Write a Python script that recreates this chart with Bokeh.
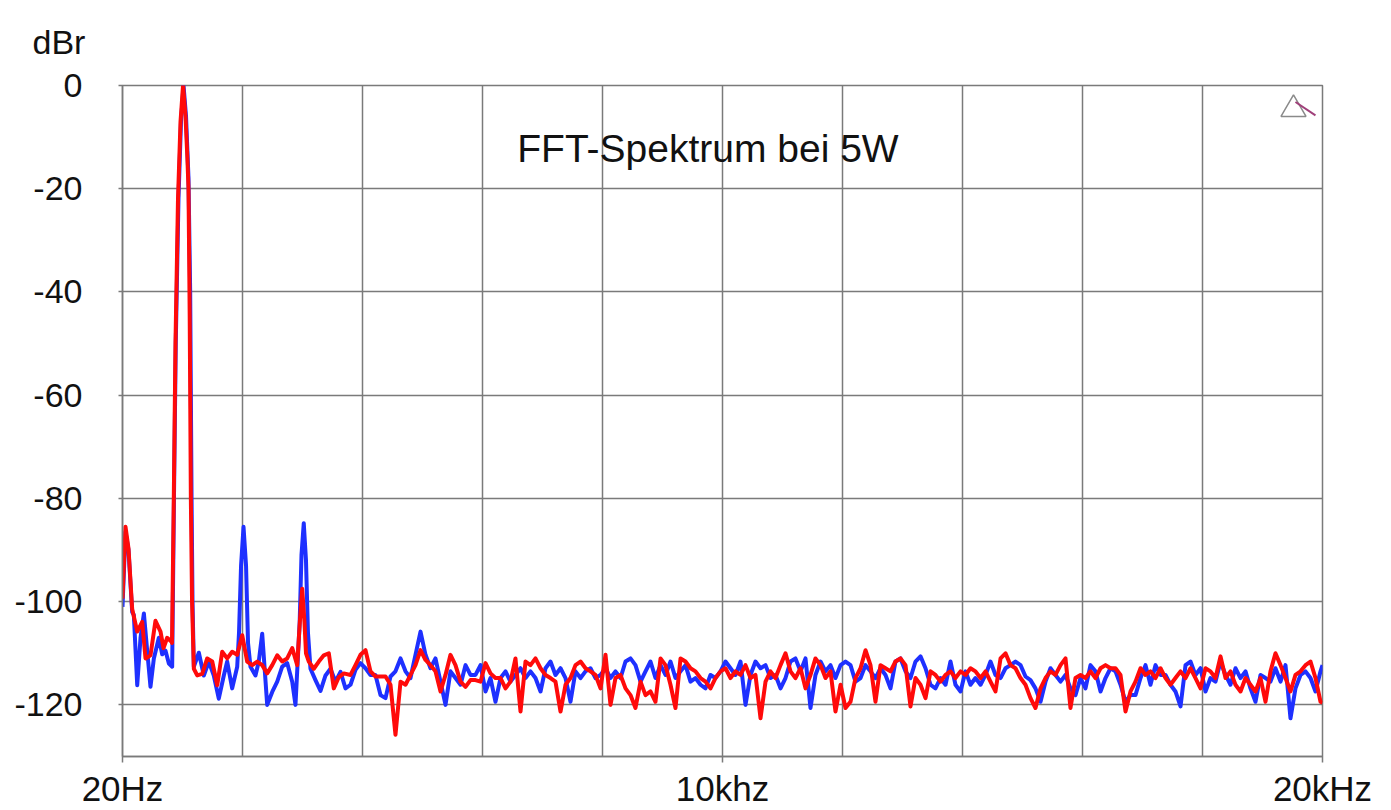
from bokeh.plotting import figure
from bokeh.models import FixedTicker, Label
from bokeh.embed import file_html
from bokeh.resources import INLINE

# ---------------- data (frequency in Hz, level in dBr) ----------------
FREQ_RED_LOW = [20, 70, 120, 181, 265, 348, 403, 486, 569, 653, 703, 764, 831, 844,
                874, 902, 944, 986, 1028, 1069, 1100, 1119, 1139, 1158, 1178, 1208,
                1264, 1347, 1430, 1514, 1597, 1680, 1763, 1846, 1930, 2013, 2096, 2180,
                2263, 2346, 2429, 2513, 2596, 2679, 2762, 2846, 2929, 2972, 3012, 3050,
                3075, 3122, 3205, 3289, 3372, 3455, 3538, 3622, 3705]
DB_RED_LOW = [-99.4, -85.5, -89.7, -101.4, -105.8, -103.9, -111.0, -110.4, -103.7, -105.8,
              -109.0, -107.0, -107.7, -108.0,
              -80.0, -50.0, -22.0, -7.0, 0.0, -6.0, -14.0, -20.0, -45.0, -80.0, -100.0, -113.0,
              -114.3, -114.0, -111.0, -111.6, -116.2, -109.7, -111.0, -109.7, -110.3, -106.5,
              -111.6, -112.3, -111.6, -112.3, -113.9, -112.3, -110.4, -111.6, -111.0, -109.0,
              -112.3, -104.0, -97.5, -104.0, -110.0, -111.6, -113.0, -111.6, -110.4, -110.0,
              -116.8, -114.6, -113.9]

FREQ_BLUE_LOW = [20, 70, 120, 181, 209, 265, 320, 376, 431, 486, 542, 625, 681, 736, 792,
                 847, 877, 907, 952, 994, 1036, 1078, 1119, 1147, 1170, 1186, 1208,
                 1291, 1374, 1457, 1540, 1623, 1707, 1763, 1846, 1930, 1960, 1994, 2035,
                 2077, 2110, 2151, 2234, 2289, 2346, 2429, 2513, 2596, 2679, 2762, 2846,
                 2900, 2970, 3000, 3038, 3075, 3108, 3150, 3233, 3317, 3400, 3483, 3566,
                 3650, 3733]
DB_BLUE_LOW = [-101.0, -86.5, -90.0, -102.0, -102.6, -116.2, -107.0, -102.3, -109.5, -116.5,
               -111.0, -107.0, -110.2, -109.5, -112.0,
               -112.6, -80.0, -50.0, -22.0, -7.0, 0.0, -6.0, -18.0, -40.0, -80.0, -100.0, -112.6,
               -109.9, -114.3, -111.6, -114.3, -118.8, -114.3, -111.6, -116.8, -112.6, -106.0,
               -93.0, -85.5, -93.0, -108.0, -112.6, -114.3, -111.6, -106.2, -120.0, -117.5,
               -115.5, -112.6, -111.9, -115.5, -120.0, -104.0, -91.0, -84.8, -92.0, -106.0,
               -113.0, -115.2, -117.3, -114.3, -113.0, -115.5, -113.6, -116.8]

FREQ_NOISE = [3816, 3899, 3982, 4066, 4149, 4232, 4316, 4399, 4482, 4565, 4649, 4732,
              4815, 4898, 4982, 5065, 5148, 5231, 5315, 5398, 5481, 5564, 5648, 5731,
              5814, 5897, 5981, 6064, 6147, 6230, 6314, 6397, 6480, 6563, 6647, 6730,
              6813, 6896, 6980, 7063, 7146, 7229, 7313, 7396, 7479, 7562, 7646, 7729,
              7812, 7895, 7979, 8062, 8145, 8228, 8312, 8395, 8478, 8561, 8645, 8728,
              8811, 8894, 8978, 9061, 9144, 9227, 9311, 9394, 9477, 9560, 9644, 9727,
              9810, 9893, 9977, 10060, 10143, 10226, 10310, 10393, 10476, 10559, 10643, 10726,
              10809, 10892, 10976, 11059, 11142, 11225, 11309, 11392, 11475, 11558, 11642, 11725,
              11808, 11891, 11975, 12058,
              12141, 12224, 12308, 12391, 12474, 12557, 12641, 12724, 12807, 12890, 12974, 13057,
              13140, 13223, 13307, 13390, 13473, 13556, 13640, 13723, 13806, 13889, 13973, 14056,
              14139, 14222, 14306, 14389, 14472, 14555, 14639, 14722, 14805, 14888, 14972, 15055,
              15138, 15221, 15305, 15388, 15471, 15554, 15638, 15721, 15804, 15887, 15971, 16054,
              16137, 16220, 16304, 16387, 16470, 16553, 16637, 16720, 16803, 16886, 16970, 17053,
              17136, 17219, 17303, 17386, 17469, 17552, 17636, 17719, 17802, 17885, 17969, 18052,
              18135, 18218, 18302, 18385, 18468, 18551, 18635, 18718, 18801, 18884, 18968, 19051,
              19134, 19217, 19301, 19384, 19467, 19550, 19634, 19717, 19800, 19883, 19967, 20000]

DB_RED_NOISE = [
    -114.2, -112.3, -110.3, -109.4, -113.5, -114.5, -114.5, -114.5, -116.1, -125.8,
    -115.5, -116.1, -114.2, -112.3, -109.4, -111.3, -112.3, -113.5, -117.4, -114.2,
    -110.3, -112.3, -115.5, -116.5, -115.2, -115.2, -115.5, -111.9, -113.9, -114.8,
    -114.8, -116.8, -115.5, -111.0, -121.3, -111.6, -112.3, -111.0, -112.9, -114.2,
    -114.8, -115.5, -121.3, -116.1, -114.8, -112.3, -111.6, -112.9, -113.5, -114.2,
    -116.8, -110.3, -120.0, -114.8, -114.2, -116.8, -118.1, -120.6, -115.5, -118.1,
    -117.4, -119.4, -111.0, -112.3, -116.1, -120.6, -111.0, -111.6, -112.9, -113.5,
    -114.8, -115.5, -116.8, -114.8, -113.5, -112.9, -114.8, -113.5, -114.2, -112.3,
    -114.8, -114.2, -122.6, -115.5, -113.5, -114.8, -112.3, -110.0, -113.5, -114.8,
    -112.9, -116.8, -114.2, -111.0, -112.3, -114.8, -113.5, -121.3, -116.1, -120.6,
    -119.4, -114.8, -112.9, -109.4, -112.3, -119.4, -112.3, -112.9, -113.5, -111.6,
    -111.0, -112.3, -120.3, -114.8, -116.1, -118.7, -113.5, -114.2, -115.5, -114.2,
    -113.5, -114.8, -113.5, -114.2, -112.9, -113.5, -114.8, -113.5, -115.5, -117.4,
    -111.0, -110.0, -112.3, -112.9, -114.8, -116.1, -118.7, -120.6, -116.8, -114.8,
    -113.5, -114.2, -112.3, -111.0, -120.6, -114.8, -114.2, -114.8, -113.5, -114.8,
    -112.9, -112.3, -112.9, -112.9, -114.2, -121.3, -117.4, -115.5, -112.9, -114.2,
    -113.5, -114.8, -112.9, -114.8, -116.1, -114.8, -113.5, -114.8, -112.9, -114.8,
    -116.8, -112.9, -113.5, -114.8, -110.6, -114.8, -113.5, -116.1, -117.4, -114.8,
    -116.1, -117.4, -114.8, -119.4, -113.5, -110.0, -112.3, -114.8, -117.4, -114.2,
    -113.5, -112.3, -111.6, -114.8, -119.4, -119.6]

DB_BLUE_NOISE = [
    -116.1, -113.2, -111.9, -112.9, -114.2, -114.2, -118.1, -118.7, -114.5, -113.5,
    -111.0, -113.5, -114.8, -110.3, -105.8, -110.3, -112.9, -111.0, -115.5, -120.0,
    -113.5, -114.8, -116.1, -112.3, -114.2, -114.2, -112.3, -117.4, -114.8, -119.4,
    -114.8, -113.5, -115.5, -114.2, -112.9, -114.8, -113.5, -114.8, -117.4, -112.9,
    -111.6, -114.2, -112.9, -114.8, -119.4, -113.5, -114.8, -113.5, -112.9, -114.8,
    -114.2, -112.9, -114.8, -113.5, -114.8, -111.6, -111.0, -112.3, -115.5, -113.5,
    -111.6, -114.8, -112.3, -114.2, -111.6, -114.8, -113.5, -112.3, -115.5, -114.8,
    -116.1, -116.8, -114.2, -114.8, -113.5, -111.6, -112.9, -114.2, -111.6, -120.0,
    -114.2, -111.6, -112.9, -112.3, -114.8, -114.2, -116.8, -114.8, -111.6, -111.0,
    -113.5, -111.0, -120.6, -114.2, -111.6, -113.5, -112.3, -114.8, -112.3, -111.6,
    -112.3, -115.5, -114.8, -112.3, -113.5, -114.8, -112.9, -114.2, -116.8, -111.6,
    -111.0, -113.5, -114.8, -111.6, -110.6, -112.9, -116.1, -116.8, -114.8, -116.1,
    -111.6, -116.1, -117.4, -113.5, -116.1, -114.8, -116.1, -114.2, -111.6, -114.2,
    -114.8, -112.9, -112.3, -111.6, -112.3, -114.5, -115.2, -116.8, -119.4, -115.5,
    -112.9, -114.2, -115.5, -114.2, -116.8, -118.1, -114.8, -116.8, -112.3, -113.5,
    -117.4, -114.8, -112.9, -113.5, -116.1, -119.4, -118.1, -118.1, -114.8, -112.3,
    -116.1, -112.3, -114.2, -114.2, -116.1, -117.4, -120.3, -112.3, -111.6, -114.2,
    -112.9, -117.4, -114.8, -115.5, -111.6, -114.2, -116.1, -112.9, -114.8, -113.5,
    -116.8, -119.4, -114.2, -114.8, -115.5, -112.9, -115.5, -112.3, -122.6, -116.8,
    -114.2, -113.5, -114.8, -117.4, -113.5, -112.3]

Y_TICKS = [-120, -100, -80, -60, -40, -20, 0]
X_TICKS = [20, 10010, 20000]
X_TICK_LABELS = ["20Hz", "10khz", "20kHz"]
X_GRID = [20, 2018, 4016, 6014, 8012, 10010, 12008, 14006, 16004, 18002, 20000]
TITLE = "FFT-Spektrum bei 5W"
Y_UNIT = "dBr"

assert len(FREQ_RED_LOW) == len(DB_RED_LOW), (len(FREQ_RED_LOW), len(DB_RED_LOW))
assert len(FREQ_BLUE_LOW) == len(DB_BLUE_LOW), (len(FREQ_BLUE_LOW), len(DB_BLUE_LOW))
assert len(FREQ_NOISE) == len(DB_RED_NOISE), (len(FREQ_NOISE), len(DB_RED_NOISE))
assert len(FREQ_NOISE) == len(DB_BLUE_NOISE), (len(FREQ_NOISE), len(DB_BLUE_NOISE))

# ---------------- styling ----------------
FONT = "Liberation Sans"
GRID = "#7a7a7a"
TEXT = "#111111"
RED = "#ff0a0a"
BLUE = "#1e30ff"

p = figure(width=1391, height=810, x_range=(20, 20000), y_range=(-130, 0),
           output_backend="svg", toolbar_location=None,
           min_border_left=122, min_border_right=69,
           min_border_top=85, min_border_bottom=53)
p.background_fill_color = "white"
p.border_fill_color = "white"
p.outline_line_color = GRID
p.outline_line_width = 1.5

# unit label "dBr" in the top-left corner (title panel fills the top border)
p.title.text = Y_UNIT
p.title.align = "left"
p.title.vertical_align = "top"
p.title.offset = -90
p.title.standoff = 45
p.title.text_font = FONT
p.title.text_font_size = "34px"
p.title.text_font_style = "normal"
p.title.text_color = TEXT

p.xgrid.ticker = FixedTicker(ticks=X_GRID)
p.ygrid.ticker = FixedTicker(ticks=Y_TICKS)
for g in (p.xgrid, p.ygrid):
    g.grid_line_color = GRID
    g.grid_line_width = 1.5

p.yaxis.ticker = FixedTicker(ticks=Y_TICKS)
p.yaxis.major_label_overrides = {v: str(v) for v in Y_TICKS}
p.yaxis.axis_line_color = GRID
p.yaxis.axis_line_width = 1.5
p.yaxis.major_tick_line_color = GRID
p.yaxis.major_tick_line_width = 1.5
p.yaxis.major_tick_in = 0
p.yaxis.major_tick_out = 4
p.yaxis.minor_tick_line_color = None
p.yaxis.major_label_text_font = FONT
p.yaxis.major_label_text_font_size = "34px"
p.yaxis.major_label_text_color = TEXT
p.yaxis.major_label_standoff = 36

p.xaxis.ticker = FixedTicker(ticks=X_TICKS)
p.xaxis.major_label_overrides = dict(zip(X_TICKS, X_TICK_LABELS))
p.xaxis.axis_line_color = GRID
p.xaxis.axis_line_width = 1.5
p.xaxis.major_tick_line_color = GRID
p.xaxis.major_tick_line_width = 1.5
p.xaxis.major_tick_in = 0
p.xaxis.major_tick_out = 6
p.xaxis.minor_tick_line_color = None
p.xaxis.major_label_text_font = FONT
p.xaxis.major_label_text_font_size = "35px"
p.xaxis.major_label_text_color = TEXT
p.xaxis.major_label_standoff = 6

p.add_layout(Label(x=9768, y=-12.2, x_units="data", y_units="data", text=TITLE,
                   text_align="center", text_baseline="alphabetic",
                   text_font=FONT, text_font_size="39px", text_color=TEXT))

# spectra
p.line(FREQ_BLUE_LOW + FREQ_NOISE, DB_BLUE_LOW + DB_BLUE_NOISE,
       line_color=BLUE, line_width=4, line_join="round")
p.line(FREQ_RED_LOW + FREQ_NOISE, DB_RED_LOW + DB_RED_NOISE,
       line_color=RED, line_width=4, line_join="round")

# analyzer cursor marker (top right)
p.scatter([19517], [-4.6], marker="triangle", size=25, fill_color=None,
          line_color="#8a8a8a", line_width=1.5)
p.line([19550, 19883], [-3.2, -5.8], line_color="#a0407a", line_width=2)

open("out.html", "w").write(file_html(p, INLINE))
